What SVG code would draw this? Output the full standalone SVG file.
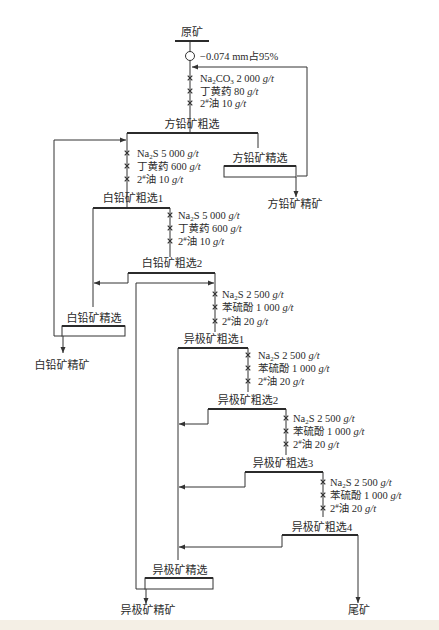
<svg xmlns="http://www.w3.org/2000/svg" xmlns:xlink="http://www.w3.org/1999/xlink" width="439" height="630" viewBox="0 0 439 630">
<style>
text{font-family:"Liberation Serif","Noto Sans CJK SC",serif;fill:#2b2b2b}
.lb{font-size:11px;text-anchor:middle}
.rg{font-size:10.5px}
.u{font-style:italic}
.ln{fill:none;stroke:#333;stroke-width:1}
.bar{fill:none;stroke:#2b2b2b;stroke-width:2.2}
.box{fill:none;stroke:#333;stroke-width:1}
.x{stroke:#333;stroke-width:1.2;fill:none}
</style>
<defs>
<marker id="ah" markerWidth="7" markerHeight="6" refX="6" refY="3" orient="auto" markerUnits="userSpaceOnUse">
<path d="M0,0.5 L6,3 L0,5.5 Z" fill="#333"/>
</marker>
<path id="xm" class="x" d="M-2.3,-2.3 L2.3,2.3 M2.3,-2.3 L-2.3,2.3"/>
</defs>
<rect x="0" y="0" width="439" height="630" fill="#ffffff"/>
<rect x="0" y="620" width="439" height="10" fill="#f4efe5"/>

<g id="connectors">
<path class="ln" d="M190,41 V133"/>
<path class="ln" d="M297,176 H307 V67 H192" marker-end="url(#ah)"/>
<path class="ln" d="M258,133 V148"/>
<path class="ln" d="M296,177 V197" marker-end="url(#ah)"/>
<path class="ln" d="M127,133 V208"/>
<path class="ln" d="M62,336 H54 V140 H126" marker-end="url(#ah)"/>
<path class="ln" d="M170,208 V257"/>
<path class="ln" d="M93,208 V307"/>
<path class="ln" d="M128,273 V283 H94" marker-end="url(#ah)"/>
<path class="ln" d="M215,273 V332"/>
<path class="ln" d="M145,589 H136 V283 H214" marker-end="url(#ah)"/>
<path class="ln" d="M63,336 V353" marker-end="url(#ah)"/>
<path class="ln" d="M248,348 V392"/>
<path class="ln" d="M178,348 V560"/>
<path class="ln" d="M208,409 V424 H179" marker-end="url(#ah)"/>
<path class="ln" d="M286,409 V455"/>
<path class="ln" d="M245,472 V487 H179" marker-end="url(#ah)"/>
<path class="ln" d="M323,472 V517"/>
<path class="ln" d="M282,535 V547 H179" marker-end="url(#ah)"/>
<path class="ln" d="M358,535 V603" marker-end="url(#ah)"/>
<path class="ln" d="M146,589 V604" marker-end="url(#ah)"/>
</g>

<g id="feed">
<text class="lb" x="192" y="36">原矿</text>
<path class="bar" d="M175,41 H209"/>
</g>

<g id="grinding">
<circle cx="190" cy="56" r="4.5" fill="#fff" stroke="#333" stroke-width="1"/>
<text class="rg" x="200" y="60">−0.074 mm占95%</text>
</g>

<g id="reagents-1">
<use xlink:href="#xm" x="190" y="78"/><use xlink:href="#xm" x="190" y="91"/><use xlink:href="#xm" x="190" y="103"/>
<text class="rg" x="200" y="82">Na<tspan font-size="7" dy="2">2</tspan><tspan dy="-2">CO</tspan><tspan font-size="7" dy="2">3</tspan><tspan dy="-2"> 2 000 </tspan><tspan class="u">g/t</tspan></text>
<text class="rg" x="200" y="95">丁黄药 80 <tspan class="u">g/t</tspan></text>
<text class="rg" x="200" y="107">2<tspan font-size="7" dy="-4">#</tspan><tspan dy="4">油 10 </tspan><tspan class="u">g/t</tspan></text>
</g>

<g id="pb-rougher">
<text class="lb" x="192" y="128">方铅矿粗选</text>
<path class="bar" d="M127,133 H258"/>
</g>

<g id="reagents-2">
<use xlink:href="#xm" x="127" y="153"/><use xlink:href="#xm" x="127" y="166"/><use xlink:href="#xm" x="127" y="179"/>
<text class="rg" x="137" y="157">Na<tspan font-size="7" dy="2">2</tspan><tspan dy="-2">S 5 000 </tspan><tspan class="u">g/t</tspan></text>
<text class="rg" x="137" y="170">丁黄药 600 <tspan class="u">g/t</tspan></text>
<text class="rg" x="137" y="183">2<tspan font-size="7" dy="-4">#</tspan><tspan dy="4">油 10 </tspan><tspan class="u">g/t</tspan></text>
</g>

<g id="pb-cleaner">
<text class="lb" x="260" y="162">方铅矿精选</text>
<rect class="box" x="224" y="166" width="72" height="11"/>
<path class="bar" d="M224,166 H296"/>
</g>

<g id="pb-concentrate">
<text class="lb" x="295" y="208">方铅矿精矿</text>
</g>

<g id="cer-rougher-1">
<text class="lb" x="133" y="202">白铅矿粗选1</text>
<path class="bar" d="M93,208 H170"/>
</g>

<g id="reagents-3">
<use xlink:href="#xm" x="170" y="215"/><use xlink:href="#xm" x="170" y="228"/><use xlink:href="#xm" x="170" y="241"/>
<text class="rg" x="178" y="219">Na<tspan font-size="7" dy="2">2</tspan><tspan dy="-2">S 5 000 </tspan><tspan class="u">g/t</tspan></text>
<text class="rg" x="178" y="232">丁黄药 600 <tspan class="u">g/t</tspan></text>
<text class="rg" x="178" y="245">2<tspan font-size="7" dy="-4">#</tspan><tspan dy="4">油 10 </tspan><tspan class="u">g/t</tspan></text>
</g>

<g id="cer-rougher-2">
<text class="lb" x="172" y="267">白铅矿粗选2</text>
<path class="bar" d="M128,273 H215"/>
</g>

<g id="reagents-4">
<use xlink:href="#xm" x="215" y="294"/><use xlink:href="#xm" x="215" y="307"/><use xlink:href="#xm" x="215" y="321"/>
<text class="rg" x="222" y="298">Na<tspan font-size="7" dy="2">2</tspan><tspan dy="-2">S 2 500 </tspan><tspan class="u">g/t</tspan></text>
<text class="rg" x="222" y="311">苯硫酚 1 000 <tspan class="u">g/t</tspan></text>
<text class="rg" x="222" y="325">2<tspan font-size="7" dy="-4">#</tspan><tspan dy="4">油 20 </tspan><tspan class="u">g/t</tspan></text>
</g>

<g id="cer-cleaner">
<text class="lb" x="94" y="322">白铅矿精选</text>
<rect class="box" x="62" y="326" width="63" height="10"/>
<path class="bar" d="M62,326 H125"/>
</g>

<g id="cer-concentrate">
<text class="lb" x="62" y="369">白铅矿精矿</text>
</g>

<g id="zn-rougher-1">
<text class="lb" x="214" y="343">异极矿粗选1</text>
<path class="bar" d="M178,348 H248"/>
</g>

<g id="reagents-5">
<use xlink:href="#xm" x="248" y="355"/><use xlink:href="#xm" x="248" y="368"/><use xlink:href="#xm" x="248" y="381"/>
<text class="rg" x="258" y="359">Na<tspan font-size="7" dy="2">2</tspan><tspan dy="-2">S 2 500 </tspan><tspan class="u">g/t</tspan></text>
<text class="rg" x="258" y="372">苯硫酚 1 000 <tspan class="u">g/t</tspan></text>
<text class="rg" x="258" y="385">2<tspan font-size="7" dy="-4">#</tspan><tspan dy="4">油 20 </tspan><tspan class="u">g/t</tspan></text>
</g>

<g id="zn-rougher-2">
<text class="lb" x="248" y="404">异极矿粗选2</text>
<path class="bar" d="M208,409 H286"/>
</g>

<g id="reagents-6">
<use xlink:href="#xm" x="286" y="418"/><use xlink:href="#xm" x="286" y="431"/><use xlink:href="#xm" x="286" y="444"/>
<text class="rg" x="293" y="422">Na<tspan font-size="7" dy="2">2</tspan><tspan dy="-2">S 2 500 </tspan><tspan class="u">g/t</tspan></text>
<text class="rg" x="293" y="435">苯硫酚 1 000 <tspan class="u">g/t</tspan></text>
<text class="rg" x="293" y="448">2<tspan font-size="7" dy="-4">#</tspan><tspan dy="4">油 20 </tspan><tspan class="u">g/t</tspan></text>
</g>

<g id="zn-rougher-3">
<text class="lb" x="283" y="467">异极矿粗选3</text>
<path class="bar" d="M245,472 H323"/>
</g>

<g id="reagents-7">
<use xlink:href="#xm" x="323" y="482"/><use xlink:href="#xm" x="323" y="495"/><use xlink:href="#xm" x="323" y="508"/>
<text class="rg" x="330" y="486">Na<tspan font-size="7" dy="2">2</tspan><tspan dy="-2">S 2 500 </tspan><tspan class="u">g/t</tspan></text>
<text class="rg" x="330" y="499">苯硫酚 1 000 <tspan class="u">g/t</tspan></text>
<text class="rg" x="330" y="512">2<tspan font-size="7" dy="-4">#</tspan><tspan dy="4">油 20 </tspan><tspan class="u">g/t</tspan></text>
</g>

<g id="zn-rougher-4">
<text class="lb" x="322" y="531">异极矿粗选4</text>
<path class="bar" d="M282,535 H358"/>
</g>

<g id="zn-cleaner">
<text class="lb" x="180" y="574">异极矿精选</text>
<rect class="box" x="145" y="578" width="68" height="11"/>
<path class="bar" d="M145,578 H213"/>
</g>

<g id="zn-concentrate">
<text class="lb" x="148" y="614">异极矿精矿</text>
</g>

<g id="tailings">
<text class="lb" x="359" y="614">尾矿</text>
</g>
</svg>
